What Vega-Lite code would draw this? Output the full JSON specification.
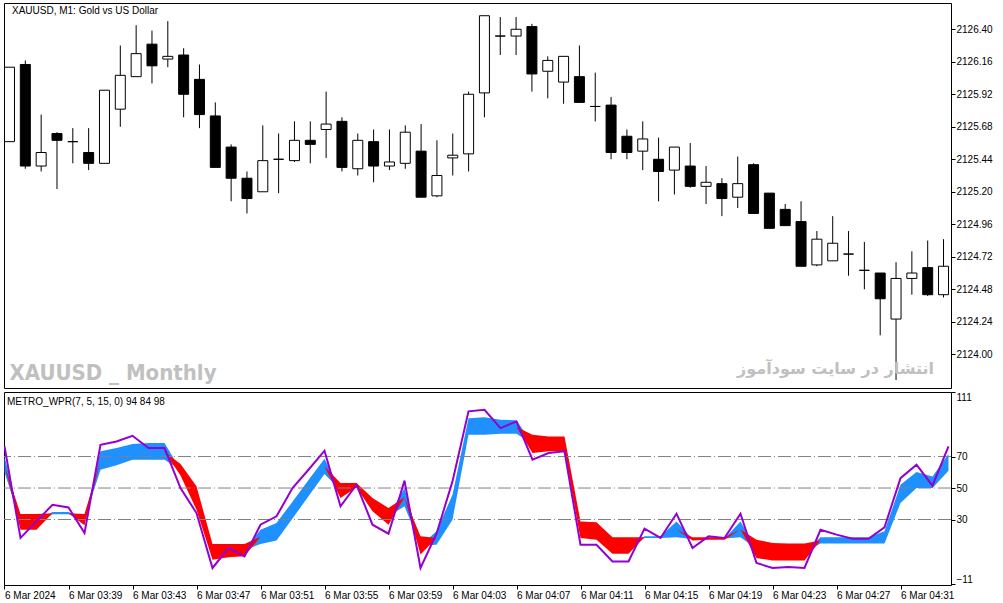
{
  "$schema": "https://vega.github.io/schema/vega-lite/v6.json",
  "padding": {"left": 3, "top": 2, "right": 0, "bottom": 0},
  "background": "white",
  "spacing": 2,
  "config": {
    "view": {"stroke": "black", "strokeWidth": 1},
    "axis": {"labelFont": "Liberation Sans", "labelFontSize": 10, "labelColor": "black", "tickColor": "black", "tickSize": 4, "labelPadding": 1, "domain": false, "grid": false, "title": null, "labelOverlap": false, "labelFlush": false}
  },
  "data": {"values": [
    {"k":0,"o":2125.57,"h":2126.12,"l":2125.57,"c":2126.12,"w":76.5,"bh":70,"bl":60,"rh":65,"rl":65},
    {"k":1,"o":2126.14,"h":2126.17,"l":2125.37,"c":2125.39,"w":18.3,"bh":28.5,"bl":28.5,"rh":33.5,"rl":23.5},
    {"k":2,"o":2125.39,"h":2125.77,"l":2125.35,"c":2125.49,"w":28.8,"bh":28.5,"bl":28.5,"rh":33.5,"rl":23.5},
    {"k":3,"o":2125.63,"h":2125.64,"l":2125.22,"c":2125.58,"w":39.4,"bh":34.8,"bl":33.3,"rh":34,"rl":34},
    {"k":4,"o":2125.57,"h":2125.67,"l":2125.41,"c":2125.57,"w":37.7,"bh":34.8,"bl":33.3,"rh":34,"rl":34},
    {"k":5,"o":2125.49,"h":2125.67,"l":2125.36,"c":2125.41,"w":21.4,"bh":30,"bl":30,"rh":33.5,"rl":26.3},
    {"k":6,"o":2125.41,"h":2125.95,"l":2125.41,"c":2125.95,"w":77.5,"bh":73.3,"bl":61.6,"rh":67.5,"rl":67.5},
    {"k":7,"o":2125.81,"h":2126.28,"l":2125.68,"c":2126.06,"w":79.6,"bh":75.4,"bl":64.4,"rh":70,"rl":70},
    {"k":8,"o":2126.05,"h":2126.43,"l":2126.05,"c":2126.22,"w":83.2,"bh":77.9,"bl":68,"rh":73,"rl":73},
    {"k":9,"o":2126.29,"h":2126.39,"l":2126.00,"c":2126.13,"w":75.4,"bh":78.6,"bl":68,"rh":73,"rl":73},
    {"k":10,"o":2126.18,"h":2126.46,"l":2126.12,"c":2126.20,"w":75.4,"bh":78.6,"bl":68,"rh":73,"rl":73},
    {"k":11,"o":2126.21,"h":2126.26,"l":2125.75,"c":2125.92,"w":50,"bh":61.6,"bl":61.6,"rh":65.2,"rl":58},
    {"k":12,"o":2126.03,"h":2126.14,"l":2125.67,"c":2125.77,"w":34.1,"bh":43.6,"bl":43.6,"rh":51.1,"rl":36.2},
    {"k":13,"o":2125.76,"h":2125.86,"l":2125.38,"c":2125.38,"w":-0.8,"bh":9.5,"bl":9.5,"rh":14.4,"rl":4.5},
    {"k":14,"o":2125.53,"h":2125.55,"l":2125.13,"c":2125.30,"w":11.9,"bh":10.2,"bl":10.2,"rh":14.4,"rl":6},
    {"k":15,"o":2125.30,"h":2125.35,"l":2125.04,"c":2125.15,"w":6.6,"bh":10.5,"bl":10.5,"rh":14.4,"rl":6.6},
    {"k":16,"o":2125.20,"h":2125.69,"l":2125.20,"c":2125.43,"w":26.7,"bh":23.5,"bl":14.4,"rh":19,"rl":19},
    {"k":17,"o":2125.44,"h":2125.63,"l":2125.19,"c":2125.44,"w":32,"bh":27.8,"bl":16.6,"rh":22.2,"rl":22.2},
    {"k":18,"o":2125.43,"h":2125.72,"l":2125.42,"c":2125.58,"w":50,"bh":41.3,"bl":30.7,"rh":36,"rl":36},
    {"k":19,"o":2125.58,"h":2125.72,"l":2125.41,"c":2125.55,"w":61.6,"bh":55.1,"bl":44.7,"rh":50,"rl":50},
    {"k":20,"o":2125.66,"h":2125.94,"l":2125.45,"c":2125.70,"w":73.7,"bh":68.6,"bl":58.9,"rh":63.8,"rl":63.8},
    {"k":21,"o":2125.72,"h":2125.75,"l":2125.35,"c":2125.38,"w":38.4,"bh":48.5,"bl":48.5,"rh":53.2,"rl":43.7},
    {"k":22,"o":2125.37,"h":2125.63,"l":2125.32,"c":2125.58,"w":52.1,"bh":51.8,"bl":51.8,"rh":53.2,"rl":50.4},
    {"k":23,"o":2125.57,"h":2125.66,"l":2125.27,"c":2125.39,"w":26.7,"bh":39.5,"bl":39.5,"rh":43.7,"rl":35.2},
    {"k":24,"o":2125.39,"h":2125.66,"l":2125.36,"c":2125.42,"w":21,"bh":32,"bl":32,"rh":37.3,"rl":26.7},
    {"k":25,"o":2125.41,"h":2125.69,"l":2125.37,"c":2125.64,"w":54.7,"bh":50,"bl":38.4,"rh":44.2,"rl":44.2},
    {"k":26,"o":2125.50,"h":2125.70,"l":2125.16,"c":2125.16,"w":-0.8,"bh":13.5,"bl":13.5,"rh":19.3,"rl":7.7},
    {"k":27,"o":2125.17,"h":2125.58,"l":2125.16,"c":2125.32,"w":21,"bh":22.5,"bl":14,"rh":18.3,"rl":18.3},
    {"k":28,"o":2125.45,"h":2125.63,"l":2125.32,"c":2125.47,"w":54.2,"bh":45.8,"bl":29.9,"rh":37.9,"rl":37.9},
    {"k":29,"o":2125.48,"h":2125.94,"l":2125.35,"c":2125.92,"w":98.7,"bh":94.4,"bl":83.9,"rh":89.2,"rl":89.2},
    {"k":30,"o":2125.93,"h":2126.50,"l":2125.75,"c":2126.50,"w":99.7,"bh":94.9,"bl":83.9,"rh":89.4,"rl":89.4},
    {"k":31,"o":2126.35,"h":2126.49,"l":2126.21,"c":2126.35,"w":88.1,"bh":93.4,"bl":84.5,"rh":89,"rl":89},
    {"k":32,"o":2126.35,"h":2126.49,"l":2126.21,"c":2126.40,"w":92.3,"bh":93,"bl":84.5,"rh":88.8,"rl":88.8},
    {"k":33,"o":2126.42,"h":2126.44,"l":2125.94,"c":2126.07,"w":68,"bh":78,"bl":78,"rh":83.9,"rl":72.2},
    {"k":34,"o":2126.09,"h":2126.20,"l":2125.89,"c":2126.17,"w":72.2,"bh":78,"bl":78,"rh":82.8,"rl":73.3},
    {"k":35,"o":2126.01,"h":2126.20,"l":2125.85,"c":2126.20,"w":73.3,"bh":78,"bl":78,"rh":82.8,"rl":73.3},
    {"k":36,"o":2126.05,"h":2126.28,"l":2125.86,"c":2125.86,"w":14,"bh":23.5,"bl":23.5,"rh":28.8,"rl":18.3},
    {"k":37,"o":2125.83,"h":2126.08,"l":2125.72,"c":2125.83,"w":14,"bh":22.7,"bl":22.7,"rh":28.2,"rl":17.2},
    {"k":38,"o":2125.84,"h":2125.90,"l":2125.44,"c":2125.49,"w":3.4,"bh":13.5,"bl":13.5,"rh":18.7,"rl":8.3},
    {"k":39,"o":2125.61,"h":2125.66,"l":2125.44,"c":2125.49,"w":3.4,"bh":13.5,"bl":13.5,"rh":18.7,"rl":8.3},
    {"k":40,"o":2125.50,"h":2125.72,"l":2125.36,"c":2125.59,"w":24.2,"bh":19.3,"bl":18.3,"rh":18.8,"rl":18.8},
    {"k":41,"o":2125.44,"h":2125.60,"l":2125.13,"c":2125.35,"w":18.3,"bh":19.3,"bl":18.3,"rh":18.8,"rl":18.8},
    {"k":42,"o":2125.36,"h":2125.53,"l":2125.18,"c":2125.53,"w":33.7,"bh":28.8,"bl":18.7,"rh":23.7,"rl":23.7},
    {"k":43,"o":2125.39,"h":2125.56,"l":2125.23,"c":2125.24,"w":11.9,"bh":17.6,"bl":17.6,"rh":18.7,"rl":16.6},
    {"k":44,"o":2125.24,"h":2125.39,"l":2125.11,"c":2125.27,"w":19.3,"bh":18,"bl":18,"rh":18.7,"rl":17.2},
    {"k":45,"o":2125.26,"h":2125.30,"l":2125.02,"c":2125.15,"w":18.3,"bh":18,"bl":18,"rh":18.7,"rl":17.2},
    {"k":46,"o":2125.16,"h":2125.46,"l":2125.08,"c":2125.26,"w":33.7,"bh":28.8,"bl":18.7,"rh":23.7,"rl":23.7},
    {"k":47,"o":2125.40,"h":2125.41,"l":2125.04,"c":2125.04,"w":2.4,"bh":11.4,"bl":11.4,"rh":17.2,"rl":5.6},
    {"k":48,"o":2125.19,"h":2125.19,"l":2124.93,"c":2124.93,"w":-0.8,"bh":9.5,"bl":9.5,"rh":15.1,"rl":3.9},
    {"k":49,"o":2125.07,"h":2125.11,"l":2124.95,"c":2124.95,"w":-0.2,"bh":9.3,"bl":9.3,"rh":14.7,"rl":3.9},
    {"k":50,"o":2124.98,"h":2125.13,"l":2124.65,"c":2124.65,"w":-0.8,"bh":9.3,"bl":9.3,"rh":14.7,"rl":3.9},
    {"k":51,"o":2124.66,"h":2124.91,"l":2124.65,"c":2124.85,"w":23.5,"bh":18.7,"bl":14.7,"rh":16.7,"rl":16.7},
    {"k":52,"o":2124.69,"h":2125.02,"l":2124.69,"c":2124.82,"w":20.4,"bh":18.7,"bl":14.7,"rh":16.7,"rl":16.7},
    {"k":53,"o":2124.74,"h":2124.91,"l":2124.58,"c":2124.74,"w":17.8,"bh":18.7,"bl":14.7,"rh":16.7,"rl":16.7},
    {"k":54,"o":2124.62,"h":2124.83,"l":2124.48,"c":2124.62,"w":17.8,"bh":18.7,"bl":14.7,"rh":16.7,"rl":16.7},
    {"k":55,"o":2124.60,"h":2124.60,"l":2124.14,"c":2124.41,"w":25,"bh":22.5,"bl":14.7,"rh":18.6,"rl":18.6},
    {"k":56,"o":2124.26,"h":2124.68,"l":2123.81,"c":2124.56,"w":56.3,"bh":52.1,"bl":40.5,"rh":46.3,"rl":46.3},
    {"k":57,"o":2124.56,"h":2124.76,"l":2124.44,"c":2124.60,"w":64.8,"bh":60.2,"bl":50,"rh":55.1,"rl":55.1},
    {"k":58,"o":2124.64,"h":2124.84,"l":2124.43,"c":2124.44,"w":51.5,"bh":57.4,"bl":50,"rh":53.7,"rl":53.7},
    {"k":59,"o":2124.44,"h":2124.85,"l":2124.42,"c":2124.65,"w":76.5,"bh":71.6,"bl":61,"rh":66.3,"rl":66.3}
  ]},
  "vconcat": [
    {
      "width": 947,
      "height": 385,
      "layer": [
        {
          "mark": {"type": "rule", "color": "black", "strokeWidth": 1, "clip": true},
          "encoding": {
            "x": {"field": "k", "type": "quantitative", "scale": {"domain": [-0.03125, 59.15625], "nice": false, "zero": false}, "axis": null},
            "y": {"field": "l", "type": "quantitative", "scale": {"domain": [2123.751, 2126.594], "nice": false, "zero": false},
                  "axis": {"orient": "right", "values": [2124.00, 2124.24, 2124.48, 2124.72, 2124.96, 2125.20, 2125.44, 2125.68, 2125.92, 2126.16, 2126.40], "format": ".2f", "labelOverlap": false, "tickCount": 11}},
            "y2": {"field": "h"}
          }
        },
        {
          "mark": {"type": "bar", "size": 10, "stroke": "black", "strokeWidth": 1, "clip": true},
          "encoding": {
            "x": {"field": "k", "type": "quantitative"},
            "y": {"field": "o", "type": "quantitative"},
            "y2": {"field": "c"},
            "fill": {"condition": {"test": "datum.c > datum.o", "value": "white"}, "value": "black"}
          }
        },
        {
          "data": {"values": [{"label": "XAUUSD, M1:  Gold vs US Dollar"}]},
          "mark": {"type": "text", "align": "left", "baseline": "middle", "font": "Liberation Sans", "fontSize": 10, "color": "black"},
          "encoding": {
            "x": {"datum": 0.15625, "type": "quantitative"},
            "y": {"datum": 2126.535, "type": "quantitative"},
            "text": {"field": "label"}
          }
        },
        {
          "data": {"values": [{"label": "XAUUSD _ Monthly"}]},
          "mark": {"type": "text", "align": "left", "baseline": "alphabetic", "font": "'Liberation Sans Narrow', 'DejaVu Sans Condensed', 'Roboto Condensed', 'Liberation Sans', sans-serif", "fontWeight": "bold", "fontSize": 22, "color": "#C0C0C0"},
          "encoding": {
            "x": {"datum": 0.0, "type": "quantitative"},
            "y": {"datum": 2123.81, "type": "quantitative"},
            "text": {"field": "label"}
          }
        },
        {
          "data": {"values": [{"label": "انتشار در سایت سودآموز"}]},
          "mark": {"type": "text", "align": "right", "baseline": "alphabetic", "font": "DejaVu Sans", "fontWeight": "bold", "fontSize": 16, "color": "#C0C0C0"},
          "encoding": {
            "x": {"datum": 58.4, "type": "quantitative"},
            "y": {"datum": 2123.854, "type": "quantitative"},
            "text": {"field": "label"}
          }
        }
      ]
    },
    {
      "width": 947,
      "height": 193,
      "layer": [
        {
          "mark": {"type": "area", "color": "#1E90FF", "clip": true, "interpolate": "linear"},
          "encoding": {
            "x": {"field": "k", "type": "quantitative", "scale": {"domain": [-0.03125, 59.15625], "nice": false, "zero": false},
                  "axis": {"values": [0, 4, 8, 12, 16, 20, 24, 28, 32, 36, 40, 44, 48, 52, 56], "labelAlign": "left", "labelOverlap": false,
                           "labelExpr": "datum.value == 0 ? '6 Mar 2024' : '6 Mar ' + timeFormat(datetime(2024, 2, 6, 3, 35 + datum.value), '%H:%M')"}},
            "y": {"field": "bh", "type": "quantitative", "scale": {"domain": [-11.6, 111], "nice": false, "zero": false},
                  "axis": {"orient": "right", "values": [111, 70, 50, 30, -11], "format": "d", "labelOverlap": false,
                           "labelBaseline": {"expr": "datum.value == 111 ? 'top' : (datum.value == -11 ? 'bottom' : 'middle')"}}},
            "y2": {"field": "bl"}
          }
        },
        {
          "mark": {"type": "area", "color": "#FF0000", "clip": true, "interpolate": "linear"},
          "encoding": {
            "x": {"field": "k", "type": "quantitative"},
            "y": {"field": "rh", "type": "quantitative"},
            "y2": {"field": "rl"}
          }
        },
        {
          "data": {"values": [{"lv": 30}, {"lv": 50}, {"lv": 70}]},
          "mark": {"type": "rule", "color": "#808080", "strokeWidth": 1, "strokeDash": [13, 3, 1, 3]},
          "encoding": {
            "y": {"field": "lv", "type": "quantitative"}
          }
        },
        {
          "mark": {"type": "line", "color": "#9400D3", "strokeWidth": 2, "clip": true},
          "encoding": {
            "x": {"field": "k", "type": "quantitative"},
            "y": {"field": "w", "type": "quantitative"}
          }
        },
        {
          "data": {"values": [{"label": "METRO_WPR(7, 5, 15, 0) 94 84 98"}]},
          "mark": {"type": "text", "align": "left", "baseline": "middle", "font": "Liberation Sans", "fontSize": 10, "color": "black"},
          "encoding": {
            "x": {"datum": 0.15625, "type": "quantitative"},
            "y": {"datum": 104.65, "type": "quantitative"},
            "text": {"field": "label"}
          }
        }
      ]
    }
  ]
}
